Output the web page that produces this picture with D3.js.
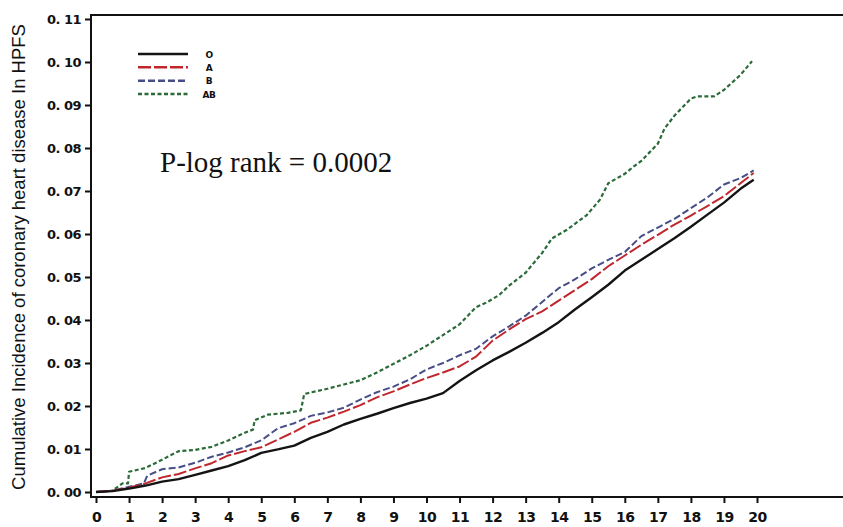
<!DOCTYPE html>
<html>
<head>
<meta charset="utf-8">
<script src="https://cdn.jsdelivr.net/npm/d3@7"></script>
<style>
  body { margin: 0; background: #fff; }
  svg { display: block; }
</style>
</head>
<body>
<div id="chart"></div>
<script>
// cumulative incidence by blood group, [year, incidence]
const groupO = [[0,0],[0.5,0.0002],[1,0.0008],[1.5,0.0015],[2,0.0024],[2.5,0.003],[3,0.004],[3.5,0.005],[4,0.006],[4.5,0.0074],[5,0.0091],[5.5,0.0099],[6,0.0108],[6.5,0.0126],[7,0.014],[7.5,0.0157],[8,0.017],[8.5,0.0182],[9,0.0195],[9.5,0.0207],[10,0.0217],[10.5,0.023],[11,0.0258],[11.5,0.0283],[12,0.0306],[12.5,0.0326],[13,0.0347],[13.5,0.037],[14,0.0395],[14.5,0.0425],[15,0.0453],[15.5,0.0482],[16,0.0515],[16.5,0.054],[17,0.0565],[17.5,0.059],[18,0.0617],[18.5,0.0645],[19,0.0673],[19.5,0.0705],[19.9,0.0726]];
const groupA = [[0,0],[0.5,0.0003],[1,0.001],[1.5,0.002],[2,0.0034],[2.5,0.0042],[3,0.0055],[3.5,0.0067],[4,0.0085],[4.5,0.0095],[5,0.0104],[5.5,0.0122],[6,0.014],[6.5,0.0161],[7,0.0173],[7.5,0.0187],[8,0.0202],[8.5,0.022],[9,0.0234],[9.5,0.025],[10,0.0265],[10.5,0.0278],[11,0.0292],[11.5,0.0315],[12,0.0352],[12.5,0.0378],[13,0.0402],[13.5,0.042],[14,0.0445],[14.5,0.047],[15,0.0495],[15.5,0.0525],[16,0.055],[16.5,0.0575],[17,0.0598],[17.5,0.0622],[18,0.0643],[18.5,0.0665],[19,0.0688],[19.5,0.0718],[19.9,0.0742]];
const groupB = [[0,0],[0.5,0.0003],[1,0.0012],[1.45,0.002],[1.55,0.0038],[2,0.0053],[2.5,0.0057],[3,0.0068],[3.5,0.0082],[4,0.0092],[4.5,0.0104],[5,0.012],[5.5,0.0148],[6,0.016],[6.5,0.0177],[7,0.0185],[7.5,0.0196],[8,0.0215],[8.5,0.0232],[9,0.0245],[9.5,0.0262],[10,0.0285],[10.5,0.03],[11,0.0318],[11.5,0.0333],[12,0.0362],[12.5,0.0385],[13,0.041],[13.5,0.0442],[14,0.0474],[14.5,0.0495],[15,0.052],[15.5,0.054],[16,0.0558],[16.5,0.0595],[17,0.0615],[17.5,0.0635],[18,0.066],[18.5,0.0685],[19,0.0715],[19.5,0.073],[19.9,0.0748]];
const groupAB = [[0,0],[0.5,0.0003],[0.8,0.002],[0.97,0.002],[1.0,0.0047],[1.5,0.0056],[2,0.0075],[2.5,0.0095],[3,0.0098],[3.5,0.0105],[4,0.012],[4.5,0.0138],[4.75,0.0145],[4.8,0.0167],[5.2,0.018],[5.8,0.0184],[6.2,0.019],[6.3,0.0228],[7,0.024],[7.5,0.025],[8,0.026],[8.5,0.0278],[9,0.0298],[9.5,0.0318],[10,0.034],[10.5,0.0365],[11,0.039],[11.5,0.043],[11.8,0.044],[12.2,0.0458],[12.5,0.048],[13,0.051],[13.5,0.0556],[13.8,0.059],[14.25,0.061],[14.85,0.0644],[15.25,0.068],[15.5,0.0718],[16,0.074],[16.25,0.0756],[16.5,0.077],[17,0.081],[17.2,0.0845],[17.5,0.0875],[18,0.0915],[18.2,0.092],[18.7,0.092],[19,0.0935],[19.5,0.097],[19.85,0.1002]];

const groupNames = ["O", "A", "B", "AB"];
const xTicks = d3.range(0, 21);
const yTicks = d3.range(0, 0.111, 0.01);

const series = [
  { name: "O", data: groupO, color: "#141414", dash: null, width: 2.4 },
  { name: "A", data: groupA, color: "#c0272d", dash: "13,3", width: 2 },
  { name: "B", data: groupB, color: "#474d86", dash: "7,3", width: 2 },
  { name: "AB", data: groupAB, color: "#2b6b38", dash: "4,2.5", width: 2.2 }
];

const W = 843, H = 527;
const svg = d3.select("#chart").append("svg").attr("width", W).attr("height", H);

const x = d3.scaleLinear().domain([0, 20]).range([96, 757]);
const y = d3.scaleLinear().domain([0, 0.11]).range([492, 19]);

const frame = { left: 91, top: 15, right: 860, bottom: 497 };

// frame
svg.append("rect")
  .attr("x", frame.left).attr("y", frame.top)
  .attr("width", frame.right - frame.left).attr("height", frame.bottom - frame.top)
  .attr("fill", "none").attr("stroke", "#111").attr("stroke-width", 2);

const tickFont = "'DejaVu Sans', sans-serif";

// y axis
const yAxis = svg.append("g")
  .attr("transform", `translate(${frame.left},0)`)
  .call(d3.axisLeft(y).tickValues(yTicks).tickSize(6).tickPadding(4)
    .tickFormat(d => d3.format(".2f")(d).replace(".", ". ")));
yAxis.select(".domain").remove();
yAxis.selectAll(".tick line").attr("stroke", "#111").attr("stroke-width", 2);
yAxis.selectAll(".tick text")
  .attr("font-family", tickFont).attr("font-weight", "bold")
  .attr("font-size", 13).attr("letter-spacing", -0.5).attr("fill", "#111");

// x axis
const xAxis = svg.append("g")
  .attr("transform", `translate(0,${frame.bottom})`)
  .call(d3.axisBottom(x).tickValues(xTicks).tickSize(6).tickPadding(9));
xAxis.select(".domain").remove();
xAxis.selectAll(".tick line").attr("stroke", "#111").attr("stroke-width", 2);
xAxis.selectAll(".tick text")
  .attr("font-family", tickFont).attr("font-weight", "bold")
  .attr("font-size", 14).attr("letter-spacing", -0.5).attr("fill", "#111");

// y title
svg.append("text")
  .attr("transform", "translate(25,257) rotate(-90)")
  .attr("text-anchor", "middle")
  .attr("font-family", "'Liberation Sans', Arial, sans-serif")
  .attr("font-size", 18.5)
  .attr("fill", "#111")
  .text("Cumulative Incidence of coronary heart disease In HPFS");

// curves
const line = d3.line().x(d => x(d[0])).y(d => y(d[1]));
svg.append("g").selectAll("path")
  .data(series.slice().reverse())
  .join("path")
  .attr("d", d => line(d.data))
  .attr("fill", "none")
  .attr("stroke", d => d.color)
  .attr("stroke-width", d => d.width)
  .attr("stroke-dasharray", d => d.dash)
  .attr("stroke-linejoin", "round");

// legend
const legendY = d3.scalePoint().domain(groupNames).range([54, 94]);
const legend = svg.append("g");
legend.selectAll("line")
  .data(series)
  .join("line")
  .attr("x1", 138).attr("x2", 188)
  .attr("y1", d => legendY(d.name)).attr("y2", d => legendY(d.name))
  .attr("stroke", d => d.color)
  .attr("stroke-width", 2.5)
  .attr("stroke-dasharray", d => d.dash);
legend.selectAll("text")
  .data(series)
  .join("text")
  .attr("x", 209)
  .attr("y", d => legendY(d.name) + 3.5)
  .attr("text-anchor", "middle")
  .attr("font-family", tickFont)
  .attr("font-weight", "bold")
  .attr("font-size", 9)
  .attr("letter-spacing", -0.5)
  .attr("fill", "#111")
  .text(d => d.name);

// log-rank annotation
svg.append("text")
  .attr("x", 160).attr("y", 172)
  .attr("font-family", "'Liberation Serif', 'Times New Roman', serif")
  .attr("font-size", 29)
  .attr("fill", "#111")
  .text("P-log rank = 0.0002");
</script>
</body>
</html>
